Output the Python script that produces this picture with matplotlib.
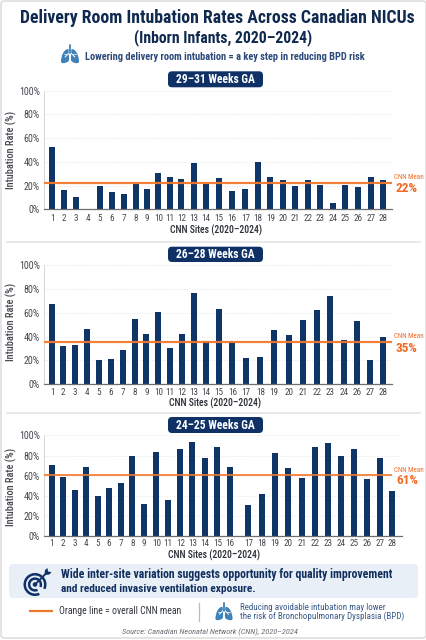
import matplotlib
matplotlib.use("Agg")
import matplotlib.pyplot as plt
from matplotlib.patches import FancyBboxPatch, PathPatch, Circle, Wedge, Polygon
from matplotlib.path import Path
from matplotlib import font_manager as fm

# Intubation rate (%) per site; None means no bar reported
sites_29_31 = list(range(1, 29))
rates_29_31 = [52.5, 16.5, 10.5, None, 19.5, 14.5, 13, 21, 17, 30.5, 27, 25.5, 39, 21,
               26.5, 15.5, 17, 39.5, 27.5, 25, 19.5, 25, 20.5, 5.5, 20.5, 18.5, 27, 24.5]
sites_26_28 = [s for s in range(1, 29) if s != 25]
rates_26_28 = [67, 32, 32.5, 46, 20, 21, 28.5, 55, 42, 60.5, 30, 42, 77, 36.5,
               63, 35.5, 22, 23, 45.5, 41, 54, 62, 74, 37, 53, 20, 40]
sites_24_25 = list(range(1, 29))
rates_24_25 = [70.5, 59, 46, 69, 40, 48, 53, 80, 32, 83, 35.5, 86, 93, 78,
               88.5, 68.5, 30.5, 42, 82, 68, 58, 88.5, 92, 80, 86, 56.5, 78, 45]
means = [22, 35, 61]
panel_titles = ["29–31 Weeks GA", "26–28 Weeks GA", "24–25 Weeks GA"]
y_ticks = [0, 20, 40, 60, 80, 100]

# Unevenly spaced column centres along each x axis, in axis-width units
slots_29_31 = [8.3, 20, 32, 44, 56, 68, 80, 91.7, 103, 114.3, 126, 137.3, 149.7, 162,
               174.7, 188, 201.3, 213.7, 226.3, 238.7, 251.3, 263.7, 276.3, 288.7, 301, 314, 327.3, 339.3]
slots_26_28 = [8.3, 19.3, 31.3, 43, 54.7, 66.7, 78.7, 90.7, 102.3, 114.3, 126, 137.7, 150, 162,
               174.7, 188.3, 201.7, 216.3, 230, 244.7, 259, 273.3, 286.3, 299.7, 312.7, 326, 339.3]
slots_24_25 = [7.7, 19, 30.7, 42, 53.7, 65, 76.7, 88.3, 99.7, 112.3, 124, 136.3, 148.3, 161,
               173.3, 186, 204.3, 218, 231, 244, 257.7, 271, 284.3, 297, 310, 322.7, 335.7, 348.3]

W, H = 427, 640
NAVY = "#0f3166"
BAR = "#0e3468"
ORANGE = "#f0782d"
ORANGE_TEXT = "#f26a21"
TEXT = "#444950"


def pick_font(*names):
    for name in names:
        try:
            fm.findfont(name, fallback_to_default=False)
            return name
        except ValueError:
            continue
    return "DejaVu Sans"


NARROW = pick_font("Liberation Sans Narrow", "Roboto Condensed", "Roboto")

fig = plt.figure(figsize=(W / 100, H / 100), dpi=100, facecolor="white")
page = fig.add_axes([0, 0, 1, 1])
page.set_xlim(0, W)
page.set_ylim(H, 0)
page.axis("off")
renderer = fig.canvas.get_renderer()


def fitted(x, y, s, width, **kw):
    """Place text and scale its font so its longest side spans `width` pixels."""
    t = page.text(x, y, s, family=NARROW, va="center", fontsize=10, **kw)
    box = t.get_window_extent(renderer)
    t.set_fontsize(10 * width / max(box.width, box.height))
    return t


def lungs(cx, cy, h, color):
    s = h / 20
    lobe = [(1.5, -5), (6, -6), (9.5, 2), (9.5, 8), (9.5, 10), (6, 10.5), (2, 8),
            (1, 7.5), (1, 6), (1, 4), (1, 1), (1.5, -3), (1.5, -5)]
    codes = [Path.MOVETO] + [Path.CURVE4] * 12
    for side in (-1, 1):
        pts = [(cx + side * x * s, cy + y * s) for x, y in lobe]
        page.add_patch(PathPatch(Path(pts, codes), fc=color, ec="none", zorder=3))
        page.plot([cx, cx + side * 5 * s], [cy - 2 * s, cy + 3 * s], color="white", lw=0.7, zorder=4)
        page.plot([cx + side * 3 * s, cx + side * 6.5 * s], [cy + 0.5 * s, cy + 0.5 * s], color="white", lw=0.5, zorder=4)
    page.plot([cx, cx], [cy - 10 * s, cy - 1 * s], color=color, lw=1.3, zorder=4, solid_capstyle="round")


def target(cx, cy, r):
    page.add_patch(Wedge((cx, cy), r, 65, 25, width=r * 0.22, fc=NAVY, ec="none", zorder=3))
    page.add_patch(Wedge((cx, cy), r * 0.62, 65, 25, width=r * 0.22, fc=NAVY, ec="none", zorder=3))
    page.add_patch(Circle((cx, cy), r * 0.2, fc=NAVY, ec="none", zorder=3))
    tip_x, tip_y = cx + r * 1.0, cy - r * 1.0
    page.plot([cx, tip_x], [cy, tip_y], color=NAVY, lw=1.3, zorder=4)
    page.add_patch(Polygon([(tip_x - 2, tip_y + 2), (tip_x - 1.5, tip_y - 3), (tip_x + 1, tip_y - 5),
                            (tip_x + 1.5, tip_y - 1.5), (tip_x + 5, tip_y - 1), (tip_x + 3, tip_y + 1.5)],
                           fc=NAVY, ec="none", zorder=4))


def pill(x0, x1, y0, y1, text):
    page.add_patch(FancyBboxPatch((x0 + 3, y0 + 3), x1 - x0 - 6, y1 - y0 - 6,
                                  boxstyle="round,pad=3,rounding_size=4", fc=NAVY, ec="none", zorder=3))
    fitted((x0 + x1) / 2, (y0 + y1) / 2 + 0.3, text, 79, color="white", fontweight="bold",
           ha="center", zorder=4)


# Page furniture
page.add_patch(FancyBboxPatch((1, 1), W - 2, H - 3, boxstyle="round,pad=0,rounding_size=3",
                              fc="white", ec="#d9d9d9", lw=1.0, zorder=0))
for y in (242, 413):
    page.plot([7, 420], [y, y], color="#e4e4e4", lw=1.2, zorder=1)

fitted(217.5, 18, "Delivery Room Intubation Rates Across Canadian NICUs", 395, fontweight="bold",
       color="#10294f", ha="center")
fitted(223.5, 38, "(Inborn Infants, 2020–2024)", 178, fontweight="bold", color="#10294f", ha="center")
fitted(85.5, 57, "Lowering delivery room intubation = a key step in reducing BPD risk", 282,
       fontweight="bold", color="#2d4a7c", ha="left")
lungs(70, 54, 19, "#3f82b8")


def panel(top, bottom, right, slots, sites, rates, mean, title, pill_y, line_lw,
          tick_y, xlab_y, xlab_x, ylab_y, mean_label_y, mean_value_y):
    ax = fig.add_axes([44 / W, 1 - bottom / H, (right - 44) / W, (bottom - top) / H])
    ax.set_xlim(0, right - 44)
    ax.set_ylim(0, 100)
    ax.patch.set_alpha(0)
    ax.set_yticks(y_ticks, [f"{t}%" for t in y_ticks], family=NARROW, fontsize=7.2, color=TEXT)
    ax.set_xticks(slots, [str(s) for s in sites], family=NARROW, fontsize=6.6, color=TEXT)
    ax.tick_params(axis="both", length=0, pad=3)
    ax.tick_params(axis="x", pad=(tick_y - bottom) - 4.5)
    ax.grid(axis="y", color="#dcdcdc", lw=0.6, ls=(0, (1, 2)), zorder=0)
    ax.set_axisbelow(True)
    for side in ("top", "right"):
        ax.spines[side].set_visible(False)
    ax.spines["left"].set_color("#cfcfcf")
    ax.spines["left"].set_linewidth(0.6)
    ax.spines["bottom"].set_color("#6f6f6f")
    ax.spines["bottom"].set_linewidth(0.9)
    xs = [x for x, r in zip(slots, rates) if r is not None]
    hs = [r for r in rates if r is not None]
    ax.bar(xs, hs, width=6.0, color=BAR, zorder=2)
    ax.plot([0, 348], [mean, mean], color=ORANGE, lw=line_lw, zorder=3, solid_capstyle="butt", alpha=0.95)

    pill(168, 263, pill_y[0], pill_y[1], title)
    fitted(11.5, ylab_y, "Intubation Rate (%)", 77, rotation=90, fontweight="medium", color=TEXT, ha="center")
    fitted(xlab_x, xlab_y, "CNN Sites (2020–2024)", 92, fontweight="medium", color="#2b2f36", ha="center")
    fitted(408.5, mean_label_y, "CNN Mean", 30, color=ORANGE_TEXT, ha="center")
    fitted(407, mean_value_y, f"{mean}%", 22, fontweight="bold", color=ORANGE_TEXT, ha="center")


panel(90.7, 209.3, 392, slots_29_31, sites_29_31, rates_29_31, means[0], panel_titles[0], (71.3, 87.3), 1.6,
      217, 230, 216, 150, 177.7, 189)
panel(265.3, 384, 392, slots_26_28, sites_26_28, rates_26_28, means[1], panel_titles[1], (246.7, 262), 1.6,
      391.7, 403.5, 215.5, 322, 336.7, 348)
panel(435.3, 536.3, 401.7, slots_24_25, sites_24_25, rates_24_25, means[2], panel_titles[2], (417, 433), 1.3,
      543, 555, 214, 487, 471, 481)

# Takeaway box
page.add_patch(FancyBboxPatch((13, 568), 401, 26, boxstyle="round,pad=4,rounding_size=4",
                              fc="#e8eff7", ec="none", zorder=1))
target(35, 584.5, 11.5)
fitted(61, 574.5, "Wide inter-site variation suggests opportunity for quality improvement", 331,
       fontweight="bold", color="#12305f", ha="left", zorder=4)
fitted(61, 588.5, "and reduced invasive ventilation exposure.", 196,
       fontweight="bold", color="#12305f", ha="left", zorder=4)

# Key and source
page.plot([29, 53], [611, 611], color=ORANGE, lw=1.6, solid_capstyle="butt")
fitted(59.5, 611.5, "Orange line = overall CNN mean", 121, color="#30343a", ha="left")
page.plot([199.3, 199.3], [603, 621], color="#b5bcc4", lw=0.9)
lungs(224, 611.5, 18, "#3f82b8")
fitted(240, 607, "Reducing avoidable intubation may lower", 144.5, color="#3a5a8a", ha="left")
fitted(240, 616.5, "the risk of Bronchopulmonary Dysplasia (BPD)", 164, color="#3a5a8a", ha="left")
fitted(210, 632, "Source: Canadian Neonatal Network (CNN), 2020–2024", 175,
       style="italic", color="#666b72", ha="center")

fig.savefig("out.png", dpi=100, facecolor="white")
